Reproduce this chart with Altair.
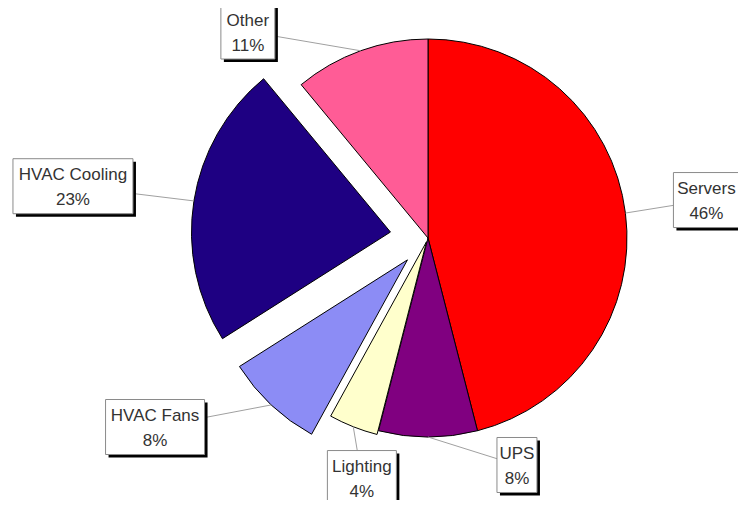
import altair as alt
import pandas as pd

# ---- data ----
categories = ["Servers", "UPS", "Lighting", "HVAC Fans", "HVAC Cooling", "Other"]
shares = [46, 8, 4, 8, 23, 11]

# ---- styling / layout ----
colors = ["#FF0000", "#800080", "#FFFFCC", "#8C8CF5", "#1E0082", "#FF5C96"]
explode = [0, 0, 4, 30, 38, 0]                 # px pulled out from centre
label_angle = [82.24, 158.6, 195.4, 235.3, 278.3, 318.9]  # degrees clockwise from top
label_dist = [281.0, 243.8, 249, 332, 358.8, 274]         # px from pie centre
box_w = [66, 40, 69, 99, 120, 54]

CX, CY, R = 420, 230, 199
BOX_H = 55
SH = 3

df = pd.DataFrame({
    "cat": categories, "share": shares, "order": list(range(len(categories))),
    "explode": explode, "la": label_angle, "ld": label_dist, "bw": box_w,
})

base = (
    alt.Chart(df)
    .transform_window(cum="sum(share)", sort=[alt.SortField("order")], frame=[None, 0])
    .transform_joinaggregate(total="sum(share)")
    .transform_calculate(
        t1="datum.cum / datum.total * 2 * PI",
        t0="(datum.cum - datum.share) / datum.total * 2 * PI",
    )
    .transform_calculate(mid="(datum.t0 + datum.t1) / 2")
    .transform_calculate(
        cx=f"{CX} + datum.explode * sin(datum.mid)",
        cy=f"{CY} - datum.explode * cos(datum.mid)",
        ex=f"{CX} + (datum.explode + {R}) * sin(datum.mid)",
        ey=f"{CY} - (datum.explode + {R}) * cos(datum.mid)",
        lx=f"{CX} + datum.ld * sin(datum.la * PI / 180)",
        ly=f"{CY} - datum.ld * cos(datum.la * PI / 180)",
        label="datum.cat + '\\n' + datum.share + '%'",
    )
    .transform_calculate(
        bx0="datum.lx - datum.bw / 2",
        bx1="datum.lx + datum.bw / 2",
        by0=f"datum.ly - {BOX_H / 2}",
        by1=f"datum.ly + {BOX_H / 2}",
    )
    .transform_calculate(
        sx0=f"datum.bx0 + {SH}", sx1=f"datum.bx1 + {SH}",
        sy0=f"datum.by0 + {SH}", sy1=f"datum.by1 + {SH}",
    )
)

def px(f):
    return alt.X(f"{f}:Q", scale=None, axis=None)

def py(f):
    return alt.Y(f"{f}:Q", scale=None, axis=None)

arcs = base.mark_arc(radius=R, stroke="black", strokeWidth=1).encode(
    theta=alt.Theta("t0:Q", scale=None, stack=None),
    theta2="t1:Q",
    x=px("cx"), y=py("cy"),
    color=alt.Color("cat:N", scale=alt.Scale(domain=categories, range=colors), legend=None),
)

leaders = base.mark_rule(color="#a0a0a0", strokeWidth=1).encode(
    x=px("ex"), y=py("ey"), x2="lx:Q", y2="ly:Q",
)

shadows = base.mark_rect(color="black").encode(
    x=px("sx0"), x2="sx1:Q", y=py("sy0"), y2="sy1:Q",
)

boxes = base.mark_rect(fill="white", stroke="#8a8a8a", strokeWidth=1).encode(
    x=px("bx0"), x2="bx1:Q", y=py("by0"), y2="by1:Q",
)

texts = base.mark_text(
    font="Liberation Sans", fontSize=17, color="#333333",
    lineBreak="\n", lineHeight=25, baseline="middle", align="center", dy=-11,
).encode(x=px("lx"), y=py("ly"), text="label:N")

chart = (
    alt.layer(arcs, leaders, shadows, boxes, texts)
    .properties(width=730, height=492, padding=0, autosize="none")
    .configure_view(stroke=None)
)

chart.save("out.html", embed_options={"renderer": "svg", "actions": False})
